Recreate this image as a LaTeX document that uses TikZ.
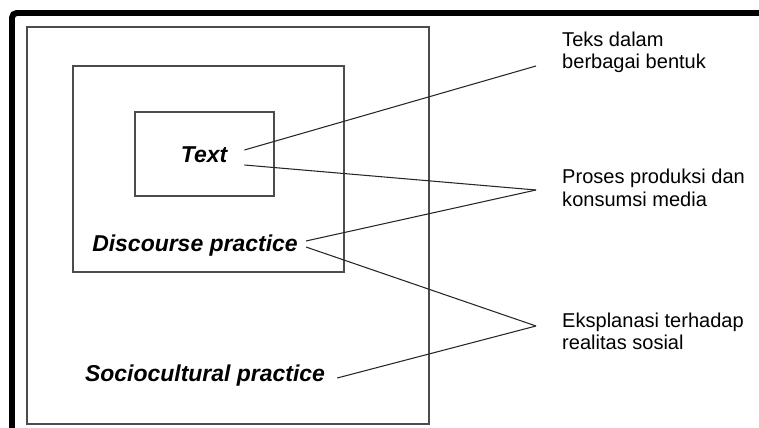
\documentclass[tikz,border=0pt]{standalone}
\usepackage{fontspec}
\setmainfont{Liberation Sans}
\usepackage{tikz}

\tikzset{
  box/.style={draw=black!70,line width=1.1pt},
  levellabel/.style={font=\fontsize{19.6}{22}\selectfont\bfseries\itshape,inner sep=0pt},
  notelabel/.style={font=\fontsize{17.1}{19.2}\selectfont,align=left,anchor=west,inner sep=0pt},
  link/.style={draw=black!85,line width=0.9pt}
}

\begin{document}
\begin{tikzpicture}[x=0.03cm,y=-0.03cm]
\useasboundingbox (0,0) rectangle (759,428);
% thick frame, left and top only
\draw[line width=5.1pt,rounded corners=4pt] (12,440) -- (12,13) -- (770,13);

% nested boxes
\draw[box] (27,27) rectangle (429,424);
\draw[box] (73,66) rectangle (344,272);
\draw[box] (135,112) rectangle (274,196);

\node[levellabel] (text) at (204,155) {Text};
\node[levellabel] (discourse) at (195,246) {Discourse practice};
\node[levellabel] (socio) at (205,376) {Sociocultural practice};

\node[notelabel] (teks) at (562,52.5) {Teks dalam\\berbagai bentuk};
\node[notelabel] (proses) at (562,188) {Proses produksi dan\\konsumsi media};
\node[notelabel] (eksplanasi) at (562,331.5) {Eksplanasi terhadap\\realitas sosial};

\coordinate (teksTip) at (536,66);
\coordinate (prosesTip) at (536,190);
\coordinate (eksTip) at (536,326);

\draw[link] ([shift={(17,-5)}]text.east) -- (teksTip);
\draw[link] ([shift={(17,10)}]text.east) -- (prosesTip);
\draw[link] ([shift={(8,-5)}]discourse.east) -- (prosesTip);
\draw[link] ([shift={(8,1)}]discourse.east) -- (eksTip);
\draw[link] ([shift={(12,2)}]socio.east) -- (eksTip);
\end{tikzpicture}
\end{document}
